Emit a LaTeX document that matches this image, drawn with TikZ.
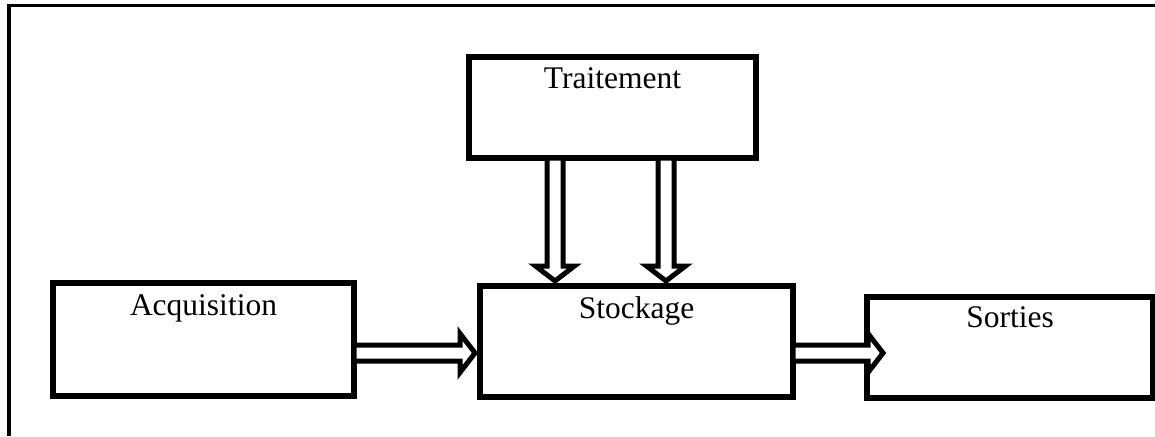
\documentclass[tikz,border=0pt]{standalone}
\usepackage{fontspec}
\setmainfont{Liberation Serif}
\usetikzlibrary{calc}

% block arrow geometry (pt): shaft half-width, head half-width, head length
\newcommand\arwShaft{8}
\newcommand\arwHead{19.5}
\newcommand\arwLen{15}

\tikzset{
  box/.style={draw, line width=6pt, rectangle, inner sep=0pt, outer sep=0pt},
  lbl/.style={anchor=base, inner sep=0pt, font=\fontsize{31.5}{36}\selectfont},
  frame/.style={line width=3.6pt, line join=miter},
  blockarrow/.style={draw, fill=white, line width=5pt, line join=miter, miter limit=10,
    to path={let \p1=(\tikztostart), \p2=(\tikztotarget),
      \n1={veclen(\x2-\x1,\y2-\y1)}, \n2={(\x2-\x1)/\n1}, \n3={(\y2-\y1)/\n1},
      \n4={\n1-\arwLen} in
      ({\x1-\arwShaft*\n3},{\y1+\arwShaft*\n2})
      -- ({\x1+\n4*\n2-\arwShaft*\n3},{\y1+\n4*\n3+\arwShaft*\n2})
      -- ({\x1+\n4*\n2-\arwHead*\n3},{\y1+\n4*\n3+\arwHead*\n2})
      -- (\p2)
      -- ({\x1+\n4*\n2+\arwHead*\n3},{\y1+\n4*\n3-\arwHead*\n2})
      -- ({\x1+\n4*\n2+\arwShaft*\n3},{\y1+\n4*\n3-\arwShaft*\n2})
      -- ({\x1+\arwShaft*\n3},{\y1-\arwShaft*\n2})
      -- cycle}}
}

\begin{document}
\begin{tikzpicture}[x=1pt, y=-1pt]
  \useasboundingbox (0,0) rectangle (1155,436);

  % outer frame (top and left sides)
  \draw[frame] (9,436) -- (9,5.5) -- (1155,5.5);

  % blocks
  \node[box, minimum width=287pt, minimum height=101pt] (trt) at (612.5,107.5) {};
  \node[box, minimum width=301pt, minimum height=113pt] (acq) at (203.5,339.5) {};
  \node[box, minimum width=313pt, minimum height=111pt] (stk) at (636.5,341.5) {};
  \node[box, minimum width=286pt, minimum height=101pt] (srt) at (1010,347.5) {};

  % block titles
  \node[lbl] (trt-t) at ($(trt.north)+(0,31)$) {Traitement};
  \node[lbl] (acq-t) at ($(acq.north)+(0,32)$) {Acquisition};
  \node[lbl] (stk-t) at ($(stk.north)+(0,32)$) {Stockage};
  \node[lbl] (srt-t) at ($(srt.north)+(0,30)$) {Sorties};

  % arrow end points on the block edges
  \coordinate (t1) at ($(trt.south)+(-57.5,0)$);
  \coordinate (t2) at ($(trt.south)+(53.5,0)$);
  \coordinate (s1) at ($(t1 |- stk.north)+(0,-5)$);
  \coordinate (s2) at ($(t2 |- stk.north)+(0,-5)$);
  \coordinate (a1) at ($(acq.east)+(0,13.5)$);
  \coordinate (s3) at ($(stk.west)+(-5,11.5)$);
  \coordinate (s4) at ($(stk.east)+(0,11.5)$);
  \coordinate (o1) at ($(srt.west)+(16,5.5)$);

  % flows
  \draw[blockarrow] (t1) to (s1);
  \draw[blockarrow] (t2) to (s2);
  \draw[blockarrow] (a1) to (s3);
  \draw[blockarrow] (s4) to (o1);
\end{tikzpicture}
\end{document}
